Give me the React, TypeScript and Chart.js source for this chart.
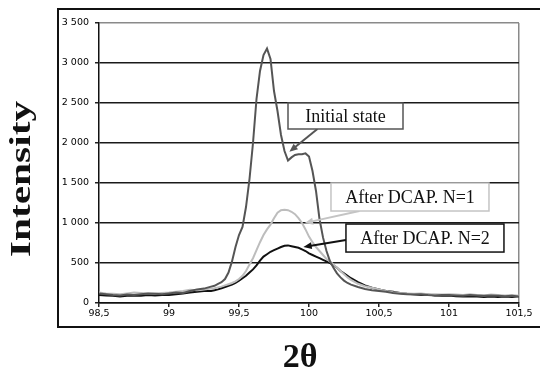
import React, { useEffect, useRef } from "react";
import { Chart, registerables } from "chart.js";

Chart.register(...registerables);

const twoTheta = [
  98.5, 98.55, 98.6, 98.65, 98.7, 98.75, 98.8, 98.85, 98.9, 98.95, 99.0, 99.05, 99.1, 99.15, 99.2, 99.25, 99.3,
  99.325, 99.35, 99.375, 99.4, 99.425, 99.45, 99.475, 99.5, 99.525, 99.55, 99.575, 99.6, 99.625, 99.65, 99.675,
  99.7, 99.725, 99.75, 99.775, 99.8, 99.825, 99.85, 99.875, 99.9, 99.925, 99.95, 99.975, 100.0, 100.025, 100.05,
  100.075, 100.1, 100.125, 100.15, 100.175, 100.2, 100.225, 100.25, 100.275, 100.3,
  100.35, 100.4, 100.45, 100.5, 100.55, 100.6, 100.65, 100.7, 100.75, 100.8, 100.85, 100.9, 100.95, 101.0,
  101.05, 101.1, 101.15, 101.2, 101.25, 101.3, 101.35, 101.4, 101.45, 101.5,
];

const initialState = [
  120, 110, 100, 95, 105, 100, 110, 120, 115, 110, 120, 130, 125, 150, 170, 180, 205,
  215, 240, 260, 300, 380, 520, 700, 850, 950, 1200, 1550, 2000, 2550, 2900, 3100,
  3180, 3050, 2650, 2400, 2100, 1900, 1780, 1820, 1850, 1860, 1860, 1870, 1830, 1650, 1400,
  1050, 820, 650, 520, 440, 370, 320, 280, 250, 230,
  200, 175, 160, 150, 140, 125, 115, 110, 105, 110, 100, 95, 100, 100,
  95, 90, 100, 95, 90, 95, 90, 85, 90, 80,
];

const afterN1 = [
  130, 120, 115, 110, 120, 130, 125, 120, 120, 125, 130, 140, 150, 165, 160, 170, 180,
  185, 195, 205, 220, 235, 250, 270, 300, 340, 400, 480, 560, 660, 760, 850,
  920, 980, 1060, 1130, 1160, 1165, 1160, 1140, 1110, 1060, 1000, 920, 830, 760, 700,
  650, 600, 550, 520, 480, 440, 400, 360, 320, 290,
  240, 210, 190, 170, 150, 135, 125, 120, 115, 120, 110, 110, 105, 110,
  105, 100, 110, 100, 95, 105, 100, 95, 100, 90,
];

const afterN2 = [
  100, 95, 90, 80, 90, 95, 90, 100, 95, 100, 100, 110, 120, 130, 140, 150, 150,
  160, 170, 185, 200, 215, 230, 250, 280, 310, 340, 380, 420, 470, 530, 580,
  610, 640, 660, 680, 700, 715, 720, 710, 700, 690, 670, 650, 620, 600, 580,
  560, 540, 520, 500, 470, 440, 400, 370, 340, 310,
  260, 220, 190, 170, 150, 140, 125, 115, 110, 100, 105, 95, 90, 95,
  85, 80, 85, 80, 75, 80, 75, 80, 75, 85,
];

const seriesNames = ["Initial state", "After DCAP. N=1", "After DCAP. N=2"];
const seriesColors = ["#555555", "#bdbdbd", "#111111"];

// annotation: box anchor (data coords, top-left), box size in px, arrow tail/tip in data coords
const annotations = [
  { text: "Initial state", color: "#555555", boxX: 99.85, boxY: 2500, w: 115, h: 26, tailX: 100.06, tailY: 2175, tipX: 99.86, tipY: 1890 },
  { text: "After DCAP. N=1", color: "#c4c4c4", boxX: 100.157, boxY: 1500, w: 158, h: 28, tailX: 100.36, tailY: 1150, tipX: 99.97, tipY: 1000 },
  { text: "After DCAP. N=2", color: "#111111", boxX: 100.264, boxY: 987, w: 158, h: 28, tailX: 100.264, tailY: 787, tipX: 99.96, tipY: 700 },
];

function pts(vals: number[]) {
  return vals.map((v, i) => ({ x: twoTheta[i], y: v }));
}

function arrow(ctx: CanvasRenderingContext2D, x1: number, y1: number, x2: number, y2: number, color: string) {
  const ang = Math.atan2(y2 - y1, x2 - x1);
  const head = 9;
  ctx.save();
  ctx.strokeStyle = color;
  ctx.fillStyle = color;
  ctx.lineWidth = 2;
  ctx.beginPath();
  ctx.moveTo(x1, y1);
  ctx.lineTo(x2 - Math.cos(ang) * head * 0.7, y2 - Math.sin(ang) * head * 0.7);
  ctx.stroke();
  ctx.beginPath();
  ctx.moveTo(x2, y2);
  ctx.lineTo(x2 - head * Math.cos(ang - 0.4), y2 - head * Math.sin(ang - 0.4));
  ctx.lineTo(x2 - head * Math.cos(ang + 0.4), y2 - head * Math.sin(ang + 0.4));
  ctx.closePath();
  ctx.fill();
  ctx.restore();
}

const decorPlugin = {
  id: "decor",
  afterDatasetsDraw(chart: any) {
    const { ctx, scales } = chart;
    const xs = scales.x;
    const ys = scales.y;
    ctx.save();
    for (const a of annotations) {
      const bx = xs.getPixelForValue(a.boxX);
      const by = ys.getPixelForValue(a.boxY);
      arrow(ctx, xs.getPixelForValue(a.tailX), ys.getPixelForValue(a.tailY), xs.getPixelForValue(a.tipX), ys.getPixelForValue(a.tipY), a.color);
      ctx.fillStyle = "#ffffff";
      ctx.fillRect(bx, by, a.w, a.h);
      ctx.strokeStyle = a.color;
      ctx.lineWidth = 1.5;
      ctx.strokeRect(bx, by, a.w, a.h);
      ctx.fillStyle = "#111111";
      ctx.font = "18px 'Liberation Serif'";
      ctx.textAlign = "center";
      ctx.textBaseline = "middle";
      ctx.fillText(a.text, bx + a.w / 2, by + a.h / 2 + 1);
    }
    ctx.restore();
  },
  afterDraw(chart: any) {
    const { ctx, chartArea } = chart;
    ctx.save();
    // outer frame
    ctx.strokeStyle = "#111111";
    ctx.lineWidth = 2;
    ctx.strokeRect(58, 9, 500, 318);
    // y title
    ctx.fillStyle = "#111111";
    ctx.font = "bold 30px 'Liberation Serif'";
    ctx.textAlign = "center";
    ctx.textBaseline = "middle";
    ctx.save();
    ctx.translate(22, (chartArea.top + chartArea.bottom) / 2 + 16);
    ctx.rotate(-Math.PI / 2);
    ctx.scale(1.38, 1);
    ctx.fillText("Intensity", 0, 0);
    ctx.restore();
    // x title
    ctx.font = "bold 34px 'Liberation Serif'";
    ctx.fillText("2\u03b8", 300, 358);
    ctx.restore();
  },
};

export default function App() {
  const ref = useRef<HTMLCanvasElement>(null);
  useEffect(() => {
    if (!ref.current) return;
    const chart = new Chart(ref.current, {
      type: "line",
      data: {
        datasets: [initialState, afterN1, afterN2].map((vals, i) => ({
          label: seriesNames[i],
          data: pts(vals),
          borderColor: seriesColors[i],
          borderWidth: 2,
          pointRadius: 0,
          tension: 0,
          fill: false,
        })),
      },
      options: {
        animation: false,
        responsive: false,
        layout: { padding: { left: 0, top: 23, right: 21, bottom: 0 } },
        plugins: { legend: { display: false }, tooltip: { enabled: false } },
        scales: {
          x: {
            type: "linear",
            min: 98.5,
            max: 101.5,
            afterFit: (s: any) => { s.height = 73; },
            ticks: {
              stepSize: 0.5,
              autoSkip: false,
              maxRotation: 0,
              padding: 1,
              color: "#000",
              font: { family: "'DejaVu Sans'", size: 9.5 },
              callback: (v: any) => String(Math.round(Number(v) * 10) / 10).replace(".", ","),
            },
            grid: {
              drawOnChartArea: true,
              color: (c: any) => (c.tick && Math.abs(c.tick.value - 101.5) < 1e-6 ? "#8a8a8a" : "rgba(0,0,0,0)"),
              tickColor: "#222",
              tickLength: 4,
              lineWidth: 1.5,
            },
            border: { color: "#111", width: 1.5 },
          },
          y: {
            min: 0,
            max: 3500,
            afterFit: (s: any) => { s.width = 99; },
            ticks: {
              stepSize: 500,
              padding: 6,
              color: "#000",
              font: { family: "'DejaVu Sans'", size: 9.5 },
              callback: (v: any) => {
                const n = Number(v);
                if (n >= 1000) {
                  const th = Math.floor(n / 1000);
                  const rest = String(n % 1000).padStart(3, "0");
                  return th + " " + rest;
                }
                return String(n);
              },
            },
            grid: {
              color: (c: any) => (c.tick && c.tick.value === 3500 ? "#8a8a8a" : "#1a1a1a"),
              tickColor: "#222",
              tickLength: 4,
              lineWidth: 1.5,
            },
            border: { color: "#111", width: 1.5 },
          },
        },
      },
      plugins: [decorPlugin],
    } as any);
    return () => chart.destroy();
  }, []);
  return (
    <div style={{ position: "absolute", left: 0, top: 0, width: 540, height: 376, background: "#fff" }}>
      <canvas ref={ref} width={540} height={376} style={{ width: 540, height: 376 }} />
    </div>
  );
}
